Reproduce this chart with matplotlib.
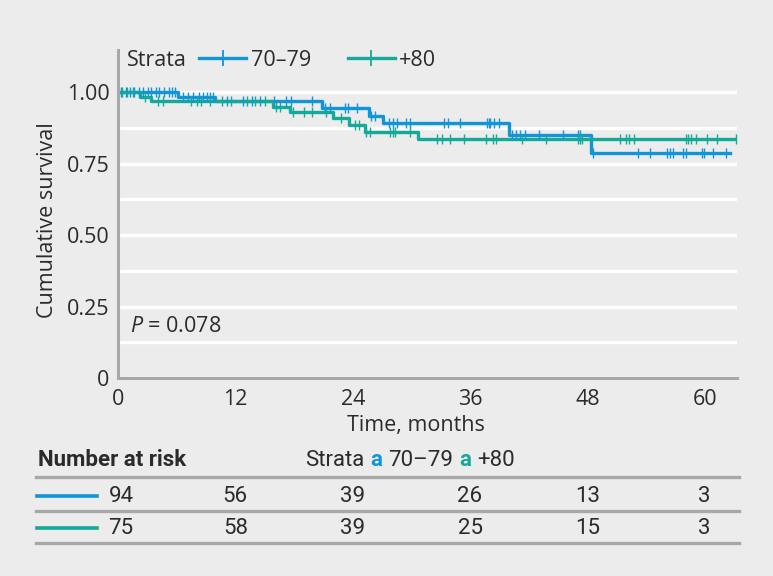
import matplotlib
matplotlib.use("Agg")

import matplotlib.pyplot as plt
import matplotlib.transforms as mtransforms
from matplotlib.lines import Line2D
import numpy as np

# ── Data ──────────────────────────────────────────────────────────────────────
# Kaplan-Meier steps: time of each drop (months) and survival after it
t_7079 = [0, 6.1, 9.9, 20.9, 25.7, 27.1, 40.0, 48.4]
s_7079 = [1.0, 0.981, 0.969, 0.944, 0.917, 0.891, 0.850, 0.786]
end_7079 = 62.6
cens_7079 = [0.3, 0.8, 1.2, 1.6, 2.1, 2.6, 3.1, 3.4, 3.9, 4.2, 4.7, 5.2, 5.5, 5.8,
             6.6, 7.2, 7.7, 8.3, 8.7, 9.1, 9.4, 9.7,
             11.1, 12.8, 13.7, 14.5, 16.0, 17.2, 17.7, 19.8,
             21.2, 21.7, 23.2, 23.5, 24.4, 25.9, 26.3,
             27.7, 28.1, 28.5, 29.5, 29.9, 33.3, 33.7, 35.0, 37.7, 37.9, 38.0, 38.5, 39.0,
             40.3, 40.7, 41.1, 41.6, 43.1, 45.5, 47.0, 47.2,
             48.6, 53.2, 54.4, 56.1, 56.4, 56.8, 57.8, 58.1, 59.7, 59.9, 60.8, 62.2]

t_80 = [0, 2.25, 3.4, 15.9, 17.6, 22.0, 23.6, 25.3, 30.7]
s_80 = [1.0, 0.981, 0.969, 0.948, 0.930, 0.908, 0.885, 0.859, 0.835]
end_80 = 63.2
cens_80 = [0.4, 0.9, 1.5, 2.8, 4.1, 4.6, 7.5, 8.1, 8.5, 9.4,
           10.6, 11.6, 13.2, 14.0, 15.0, 16.2, 16.6,
           17.9, 19.0, 19.8, 21.3, 22.8, 24.2, 24.6, 25.4, 25.8,
           27.8, 28.1, 28.3, 29.9,
           32.6, 33.1, 33.9, 35.4, 37.6, 38.3, 38.7, 41.3, 43.8, 47.0, 47.2, 47.4,
           51.3, 52.0, 52.3, 52.8, 58.1, 58.3, 58.6, 59.1, 60.2, 61.3, 63.2]

risk_months = [0, 12, 24, 36, 48, 60]
risk_7079 = [94, 56, 39, 26, 13, 3]
risk_80 = [75, 58, 39, 25, 15, 3]

labels = ["70–79", "+80"]
p_text = "0.078"

# ── Style ─────────────────────────────────────────────────────────────────────
BG = "#ebeceb"
BLUE = "#1195d8"
TEAL = "#14a999"
SPINE = "#a7a8a9"
TXT = "#2b2b2b"
FS = 15.5
MAIN_FONT = ["Open Sans", "DejaVu Sans"]
COND_FONT = ["Roboto", "DejaVu Sans"]

plt.rcParams["font.family"] = MAIN_FONT
plt.rcParams["mathtext.fontset"] = "custom"
plt.rcParams["mathtext.it"] = "Open Sans:italic"
plt.rcParams["mathtext.rm"] = "Open Sans"

W, H = 773, 576
fig = plt.figure(figsize=(W / 100, H / 100), dpi=100, facecolor=BG)
ax = fig.add_axes([118 / W, 1 - 378 / H, (737 - 118) / W, (378 - 50) / H])
ax.set_facecolor(BG)


def draw_km(ax, t, s, end, cens, color, label):
    x = list(t) + [end]
    y = list(s) + [s[-1]]
    ax.step(x, y, where="post", color=color, lw=2.4, zorder=3)
    idx = np.searchsorted(t, cens, side="right") - 1
    ax.plot(cens, np.asarray(s)[idx], ls="none", marker="|", ms=6.5, mew=1.0,
            color=color, zorder=4)
    return Line2D([], [], color=color, lw=2.4, marker="|", ms=11, mew=1.3, label=label)


h1 = draw_km(ax, t_7079, s_7079, end_7079, cens_7079, BLUE, labels[0])
h2 = draw_km(ax, t_80, s_80, end_80, cens_80, TEAL, labels[1])

ax.set_xlim(0, 63.3)
ax.set_ylim(0, 1.147)
ax.set_xticks(risk_months)
ax.set_yticks([0, 0.25, 0.5, 0.75, 1.0])
ax.set_yticklabels(["0", "0.25", "0.50", "0.75", "1.00"])
ax.set_yticks([0.125, 0.375, 0.625, 0.875], minor=True)
ax.grid(True, axis="y", which="both", color="white", lw=2.4)
ax.set_axisbelow(True)
ax.tick_params(which="both", length=0, labelsize=FS, colors=TXT)
ax.tick_params(axis="y", pad=6)
ax.tick_params(axis="x", pad=8)
for side in ["top", "right"]:
    ax.spines[side].set_visible(False)
for side in ["left", "bottom"]:
    ax.spines[side].set_color(SPINE)
    ax.spines[side].set_linewidth(2.2)
    ax.spines[side].set_zorder(5)

ax.set_xlabel("Time, months", fontsize=FS, color=TXT)
ax.xaxis.set_label_coords((416 - 118) / 619, -(415 - 378) / 328)
ax.set_ylabel("Cumulative survival", fontsize=FS, color=TXT)
ax.yaxis.set_label_coords(-(118 - 58) / 619, (378 - 220) / 328)

# legend: "Strata" followed by the two handles
ax.text((127 - 118) / 619, (378 - 60) / 328, "Strata", transform=ax.transAxes,
        fontsize=FS, color=TXT, va="center", ha="left")
fig.legend(handles=[h1, h2], loc="center left", bbox_to_anchor=(199 / W, 1 - 60 / H),
           ncol=2, frameon=False, fontsize=FS, borderpad=0, borderaxespad=0,
           handlelength=2.2, handletextpad=0.2, columnspacing=1.7, labelcolor=TXT)

ax.text((130 - 118) / 619, (378 - 327) / 328, "$P$ = " + p_text,
        transform=ax.transAxes, fontsize=FS, color=TXT, va="center", ha="left")

# ── Number-at-risk table ──────────────────────────────────────────────────────
trans = mtransforms.blended_transform_factory(ax.transData, fig.transFigure)


def fy(py):
    return 1 - py / H


TFS = 16
fig.text(38 / W, fy(460), "Number at risk", fontsize=TFS, fontweight="bold",
         family=COND_FONT, color=TXT, va="center", ha="left")

renderer = fig.canvas.get_renderer()
x_px = 305
for txt, col, bold in [("Strata", TXT, False), ("a", BLUE, True),
                       (labels[0], TXT, False), ("a", TEAL, True), (labels[1], TXT, False)]:
    t = fig.text(x_px / W, fy(460), txt, fontsize=TFS, family=COND_FONT,
                 fontweight="bold" if bold else "normal", color=col,
                 va="center", ha="left")
    x_px += t.get_window_extent(renderer).width + 6

for py in [477, 511, 543]:
    fig.add_artist(Line2D([36 / W, 739 / W], [fy(py), fy(py)], color=SPINE, lw=2.4,
                          transform=fig.transFigure))

for py, color, vals in [(496, BLUE, risk_7079), (528, TEAL, risk_80)]:
    fig.add_artist(Line2D([37 / W, 97 / W], [fy(py), fy(py)], color=color, lw=2.6,
                          transform=fig.transFigure))
    for m, v in zip(risk_months, vals):
        ax.text(m + 0.3 if m == 0 else m, fy(py), str(v), transform=trans,
                fontsize=TFS, family=COND_FONT, color=TXT, ha="center", va="center")

fig.savefig("out.png", dpi=100, facecolor=BG)
